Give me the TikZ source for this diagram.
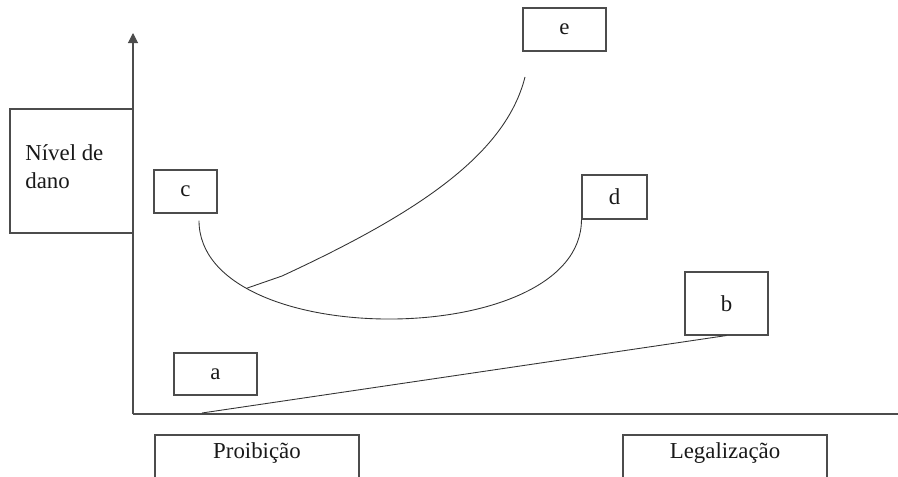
\documentclass[tikz,border=0pt]{standalone}
\usepackage{fontspec}
\setmainfont{Liberation Serif}
\usepackage{tikz}
\usetikzlibrary{arrows.meta}

\begin{document}
\begin{tikzpicture}[
  font=\fontsize{13}{15.9}\selectfont,
  box/.style={draw=black!70,line width=0.6pt,text=black!90,inner sep=0pt},
  curve/.style={draw=black!80,line width=0.5pt},
  axis/.style={draw=black!70,line width=0.6pt}
]
\useasboundingbox (0,0) rectangle (17.96,9.52);

% Axes
\coordinate (o) at (2.66,1.24);
\coordinate (ytop) at (2.66,8.86);
\coordinate (xend) at (17.96,1.24);
\draw[axis,-{Triangle[length=5.7pt,width=5.7pt]}] (o) -- (ytop);
\draw[axis] (o) -- (xend);

% Axis labels
\node[box,minimum width=2.46cm,minimum height=2.48cm] (niv) at (1.43,6.10) {};
\node[anchor=north west,align=left,inner sep=0pt,text=black!90] (nivtxt) at (0.50,6.64) {Nível de\\dano};
\node[box,anchor=base,minimum width=4.08cm,text height=0.46cm,text depth=0.7cm] (pro) at (5.14,0.36) {Proibição};
\node[box,anchor=base,minimum width=4.08cm,text height=0.46cm,text depth=0.7cm] (leg) at (14.50,0.36) {Legalização};

% Points
\node[box,minimum width=1.66cm,minimum height=0.84cm] (a) at (4.31,2.04) {a};
\node[box,minimum width=1.66cm,minimum height=1.26cm] (b) at (14.53,3.45) {b};
\node[box,minimum width=1.26cm,minimum height=0.86cm] (c) at (3.71,5.69) {c};
\node[box,minimum width=1.30cm,minimum height=0.88cm] (d) at (12.29,5.58) {d};
\node[box,minimum width=1.66cm,minimum height=0.86cm] (e) at (11.29,8.93) {e};

% Curves
\coordinate (abase) at (4.04,1.26);
\draw[curve] (abase) -- (b.south);
\draw[curve] ([xshift=0.27cm,yshift=-0.14cm]c.south) .. controls +(0,-2.64) and +(0,-2.64) .. (d.south west)
  coordinate[pos=0.22] (ebase);
\coordinate (ekink) at (5.64,4.00);
\coordinate (etip) at (10.50,7.98);
\draw[curve] (ebase) -- (ekink) .. controls +(2.72,1.26) and +(-0.39,-1.55) .. (etip);
\end{tikzpicture}
\end{document}
